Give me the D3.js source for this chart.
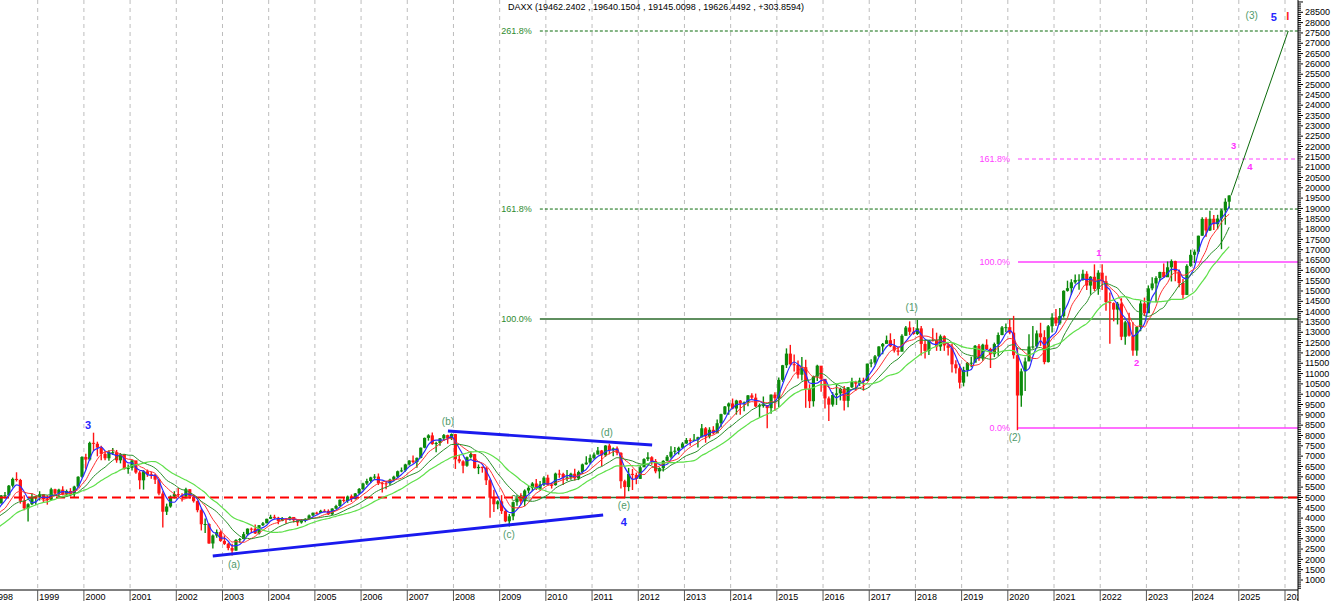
<!DOCTYPE html>
<html><head><meta charset="utf-8">
<script src="https://cdn.jsdelivr.net/npm/d3@7"></script>
<style>
body{margin:0;background:#fff;overflow:hidden;}
svg{display:block;font-family:"Liberation Sans",Arial,sans-serif;}
</style>
</head><body>
<svg id="c" width="1332" height="601"></svg>
<script>
// ---------------- DATA ----------------
const title = "DAXX (19462.2402 , 19640.1504 , 19145.0098 , 19626.4492 , +303.8594)";
const firstYear = 1998, firstMonth = 1;
// closes before the first drawn bar (Apr 1996 – Dec 1997), used for the averages only
const warmupCloses = [2523,2549,2551,2452,2486,2633,2687,2744,2889,3016,3294,3429,3624,3732,3826,4438,3917,4168,3699,3989,4250];
const closes = [
4443,4710,5097,5107,5568,5897,5845,4834,4474,4671,4994,5006,
5150,4924,4884,5395,5185,5378,5149,5312,5149,5525,6000,6958,
6835,7644,7599,7414,7110,6898,7190,7190,6798,7077,6372,6434,
6795,6208,5829,6264,6123,6058,5861,5188,4308,4560,5040,5160,
5108,5039,5397,5041,4818,4383,3700,3713,2769,3153,3320,2893,
2748,2547,2424,2942,2983,3221,3487,3485,3257,3655,3745,3965,
4058,4018,3857,3985,3921,4053,3895,3785,3893,3960,4126,4256,
4254,4351,4349,4185,4461,4586,4886,4830,5044,4929,5193,5408,
5674,5796,5970,6009,5693,5683,5682,5859,6004,6268,6309,6597,
6789,6715,6917,7409,7883,8007,7584,7638,7861,8019,7871,8067,
6851,6748,6535,6949,7097,6418,6479,6422,5831,4988,4669,4810,
4338,3843,4085,4770,4941,4809,5332,5465,5675,5415,5625,5957,
5608,5598,6154,6136,5964,5966,6148,5925,6229,6601,6688,6914,
7077,7273,7041,7514,7294,7376,7159,5785,5502,6141,6089,5898,
6458,6856,6947,6761,6264,6416,6772,6971,7216,7260,7406,7612,
7776,7742,7795,7914,8349,7959,8276,8103,8594,9033,9406,9552,
9306,9692,9556,9603,9943,9833,9407,9470,9474,9327,9980,9806,
10694,11402,11966,11454,11414,10945,11309,10259,9660,10850,11382,10743,
9798,9495,9966,10039,10263,9680,10337,10593,10511,10665,10640,11481,
11535,11834,12313,12438,12615,12325,12118,12056,12829,13230,13024,12918,
13189,12436,12097,12612,12605,12306,12806,12364,12247,11448,11257,10559,
11173,11516,11526,12344,11727,12399,12189,11939,12428,12867,13236,13249,
12982,11890,9936,11107,11587,12311,12313,12945,12761,11556,13291,13719,
13433,13786,15008,15136,15421,15531,15544,15835,15261,15688,15100,15885,
15471,14461,14415,14098,14388,12784,13484,12835,12114,13253,14397,13924,
15128,15365,15629,15922,15664,16148,16447,15947,15387,14810,16215,16752,
16904,17678,18492,17932,18498,18235,18509,18907,19325,19626];
const highs = [
4460,4730,5120,5260,5600,5960,6218,5900,5100,4720,5200,5060,
5300,5150,5100,5470,5420,5420,5540,5380,5450,5560,6020,6990,
7110,7700,8136,7700,7500,7240,7280,7400,7300,7150,7100,6600,
6800,6750,6280,6320,6350,6240,6130,5900,5300,4700,5100,5300,
5460,5200,5470,5400,5150,4850,4480,3980,3750,3200,3450,3400,
3160,2800,2750,2980,3030,3330,3500,3540,3690,3670,3810,3970,
4160,4160,4060,4050,3990,4090,4050,3900,3950,3990,4170,4270,
4310,4400,4430,4420,4470,4640,4900,4990,5090,5140,5220,5460,
5710,5900,6000,6130,6160,5750,5800,5900,6050,6300,6450,6630,
6800,7030,6940,7420,7900,8060,8151,7700,7880,8070,8040,8100,
8080,7050,6800,6980,7230,7100,6600,6500,6490,5900,5370,4860,
5110,4450,4200,4800,5100,5200,5390,5560,5740,5890,5800,6020,
6100,5700,6200,6340,6200,6330,6200,6390,6300,6640,6990,7080,
7180,7440,7300,7530,7600,7420,7470,7190,5860,6430,6380,6200,
6560,6900,7190,7000,6860,6460,6800,7060,7480,7440,7460,7680,
7880,7870,8070,7940,8560,8410,8400,8450,8770,9050,9430,9600,
9790,9730,9720,9650,9960,10050,10030,9550,9890,9480,9990,10100,
10810,11420,12220,12390,11920,11630,11800,11670,10480,10900,11430,11300,
10490,9890,10100,10480,10320,10400,10350,10800,10650,10800,10800,11480,
11690,11900,12320,12480,12840,12950,12680,12300,12900,13300,13530,13250,
13597,13300,12600,12630,13200,12980,12890,12850,12470,12460,11650,11480,
11330,11560,11820,12380,12430,12440,12660,12250,12500,12990,13300,13430,
13640,13795,12250,11250,11780,12910,13310,13090,13460,13100,13350,13920,
14130,14170,15030,15500,15570,15800,15810,16030,15960,15720,16290,16000,
16290,15740,14930,14450,14470,14650,13560,13950,13490,13290,14530,14680,
15270,15660,15710,15930,16330,16430,16530,16470,16040,15580,16300,17000,
17010,17680,18570,18570,18890,18680,18690,18970,19490,19640];
const lows = [
4110,4420,4700,4950,5050,5480,5770,4700,4380,3833,4630,4650,
4850,4750,4650,4850,5080,5050,5100,5050,5050,5000,5480,5950,
6350,6780,7250,6990,6800,6800,6780,7050,6680,6650,6350,6150,
6300,6150,5400,5380,6000,5900,5650,5100,3540,4150,4500,4950,
5000,4800,5030,4950,4750,4280,3400,3280,2750,2520,3050,2850,
2700,2440,2188,2420,2800,2970,3150,3300,3230,3200,3620,3750,
3950,3960,3700,3840,3720,3880,3790,3620,3730,3800,3950,4100,
4170,4250,4280,4150,4150,4440,4550,4750,4740,4780,4900,5170,
5350,5600,5700,5890,5600,5240,5400,5600,5780,5950,6220,6250,
6550,6650,6440,6900,7380,7750,7550,7190,7500,7750,7600,7780,
6380,6650,6170,6490,6880,6400,6130,6200,5600,4010,4300,4430,
4200,3800,3590,3900,4600,4660,4570,5190,5300,5360,5330,5550,
5590,5430,5570,5950,5600,5800,5860,5820,5840,6140,6580,6620,
6850,7080,6510,6970,7090,6990,7040,5430,4966,5300,5360,5640,
5900,6500,6770,6580,6170,5915,6250,6750,6880,7080,7080,7400,
7600,7500,7730,7420,7900,7650,7860,8050,8120,8400,9000,9000,
9270,9010,9000,9170,9420,9750,9370,8900,9350,8350,9050,9200,
9380,10600,11270,11400,11100,10760,10660,9340,9330,9400,10640,10120,
9310,8700,9400,9480,9700,9210,9370,10300,10170,10400,10170,10650,
11300,11430,11820,11940,12470,12280,12020,11870,12100,12830,12860,12880,
12870,11870,11730,11900,12560,12100,12100,12100,11870,11050,11000,10280,
10380,10860,11300,11580,11620,11620,12150,11270,11800,11860,12850,13000,
12900,11720,8256,9390,10160,11620,12200,12250,12340,11450,11530,12990,
13310,13360,13710,14970,14820,15350,15060,15500,15050,14820,15000,14820,
15050,14040,12440,13530,13380,12620,12390,12790,11860,11860,13050,13790,
13980,15030,14460,15470,15630,15710,15460,15470,15180,14630,14800,16170,
16350,16810,17680,17630,17900,17950,17990,17025,18210,19000];

const maPeriods = [4, 7, 12, 20];                 // months
const yearLabels = [1998,1999,2000,2001,2002,2003,2004,2005,2006,2007,2008,2009,2010,2011,2012,2013,2014,2015,2016,2017,2018,2019,2020,2021,2022,2023,2024,2025,2026];

// Fibonacci levels
const fibGreenStart = 2009.87;
const fibGreen = [
  {label:"0.0%",   value:5000,  dashed:false, main:false},
  {label:"100.0%", value:13640, dashed:false, main:true},
  {label:"161.8%", value:18970, dashed:true,  main:false},
  {label:"261.8%", value:27594, dashed:true,  main:false}];
const fibMagentaStart = 2020.22;
const fibMagenta = [
  {label:"0.0%",   value:8363,  dashed:false},
  {label:"100.0%", value:16404, dashed:false},
  {label:"161.8%", value:21393, dashed:true}];
const supportLevel = 5000;

// triangle trendlines
const trendUpper = [{t:2007.88, v:8218}, {t:2012.30, v:7540}];
const trendLower = [{t:2002.79, v:2163}, {t:2011.24, v:4149}];
const projectionTarget = {t:2026.07, v:27594};

// wave labels: text, time, value, degree
const waveLabels = [
  {text:"3",   t:2000.09, v:8508,  deg:"primary"},
  {text:"(a)", t:2003.25, v:1727,  deg:"inter"},
  {text:"(b)", t:2007.88, v:8654,  deg:"inter"},
  {text:"(c)", t:2009.20, v:3180,  deg:"inter"},
  {text:"(d)", t:2011.32, v:8169,  deg:"inter"},
  {text:"(e)", t:2011.69, v:4585,  deg:"inter"},
  {text:"4",   t:2011.69, v:3810,  deg:"primary"},
  {text:"(1)", t:2017.92, v:14176, deg:"inter"},
  {text:"(2)", t:2020.15, v:7879,  deg:"inter"},
  {text:"1",   t:2021.97, v:16840, deg:"minor"},
  {text:"2",   t:2022.79, v:11511, deg:"minor"},
  {text:"3",   t:2024.89, v:22023, deg:"minor"},
  {text:"4",   t:2025.24, v:21006, deg:"minor"},
  {text:"(3)", t:2025.28, v:28369, deg:"inter"},
  {text:"5",   t:2025.76, v:28272, deg:"primary"},
  {text:"I",   t:2026.06, v:28320, deg:"cycle"}];

// ---------------- CHART ----------------
const W = 1332, H = 601, plotR = 1298, plotB = 590;
const svg = d3.select("#c");
const x = d3.scaleLinear().domain([1999, 2026]).range([37.7, 1285]);
const y = d3.scaleLinear().domain([1000, 28500]).range([580, 12.3]);

const UP = "#0b8a0b", DOWN = "#ff1414";
const labelStyle = {
  primary:{fill:"#2626ff", size:11, weight:"bold"},
  inter:  {fill:"#4f9a6a", size:10, weight:"normal"},
  minor:  {fill:"#ff33ff", size:9.5,weight:"bold"},
  cycle:  {fill:"#ff2020", size:11, weight:"bold"}
};

svg.append("rect").attr("width",W).attr("height",H).attr("fill","#fff");
const defs = svg.append("defs");
defs.append("clipPath").attr("id","clip").append("rect")
  .attr("x",0).attr("y",0).attr("width",plotR).attr("height",plotB);
defs.append("clipPath").attr("id","clipx").append("rect")
  .attr("x",0).attr("y",-2).attr("width",plotR).attr("height",20);
const g = svg.append("g").attr("clip-path","url(#clip)");

// title
svg.append("text").attr("x",508).attr("y",10).attr("font-size",9).attr("fill","#000").text(title);

// year gridlines
g.append("g").selectAll("line").data(yearLabels).join("line")
  .attr("x1",d=>x(d)).attr("x2",d=>x(d)).attr("y1",0).attr("y2",plotB)
  .attr("stroke","#bdbdbd").attr("stroke-width",1).attr("stroke-dasharray","4,4");

// bars
const allCloses = warmupCloses.concat(closes);
const nW = warmupCloses.length;
const bars = closes.map((c,i)=>{
  const k = firstMonth-1+i;
  const yr = firstYear + Math.floor(k/12), m = k%12;
  return {t: yr + (m+0.5)/12, o: allCloses[nW+i-1], h: highs[i], l: lows[i], c};
});
const lastBar = bars[bars.length-1];

// fib lines (green)
const fg = g.append("g");
fibGreen.forEach(f=>{
  fg.append("line").attr("x1",x(fibGreenStart)).attr("x2",plotR).attr("y1",y(f.value)).attr("y2",y(f.value))
    .attr("stroke", f.main ? "#5f8f5f" : (f.dashed ? "#0b6b0b" : "#2f6f2f"))
    .attr("stroke-width", f.main ? 2 : (f.dashed ? 1 : 1.5))
    .attr("stroke-dasharray", f.dashed ? "3,2" : null);
  fg.append("text").attr("x",x(fibGreenStart)-8).attr("y",y(f.value)).attr("dy","0.35em")
    .attr("text-anchor","end").attr("font-size",9).attr("fill","#2e8b2e").text(f.label);
});
// fib lines (magenta)
fibMagenta.forEach(f=>{
  fg.append("line").attr("x1",x(fibMagentaStart)).attr("x2",plotR).attr("y1",y(f.value)).attr("y2",y(f.value))
    .attr("stroke","#ff40ff").attr("stroke-width", f.dashed?1:1.6)
    .attr("stroke-dasharray", f.dashed ? "4,3" : null);
  fg.append("text").attr("x",x(fibMagentaStart)-8).attr("y",y(f.value)).attr("dy","0.35em")
    .attr("text-anchor","end").attr("font-size",9).attr("fill","#ff40ff").text(f.label);
});

// candles
const bg = g.append("g");
bg.selectAll("line").data(bars).join("line")
  .attr("x1",d=>x(d.t)).attr("x2",d=>x(d.t)).attr("y1",d=>y(d.h)).attr("y2",d=>y(d.l))
  .attr("stroke",d=>d.c>=d.o?UP:DOWN).attr("stroke-width",1.4);
bg.selectAll("rect").data(bars).join("rect")
  .attr("x",d=>x(d.t)-1.6).attr("width",3.2)
  .attr("y",d=>y(Math.max(d.o,d.c))).attr("height",d=>Math.max(1,Math.abs(y(d.o)-y(d.c))))
  .attr("fill",d=>d.c>=d.o?UP:DOWN);

// support line
g.append("line").attr("x1",0).attr("x2",plotR).attr("y1",y(supportLevel)).attr("y2",y(supportLevel))
  .attr("stroke","#ff0000").attr("stroke-width",2).attr("stroke-dasharray","9,5");

// moving averages
const maColors = ["#2b2bff","#ff3030","#2a8f2a","#5fe04a"];
const maWidths = [1.2,1,1,1.2];
const line = d3.line().x(d=>x(d.t)).y(d=>y(d.v)).curve(d3.curveMonotoneX);
maPeriods.forEach((n,j)=>{
  const pts = bars.map((b,i)=>({t:b.t, v:d3.mean(allCloses.slice(nW+i-n+1, nW+i+1))}));
  g.append("path").datum(pts).attr("d",line).attr("fill","none")
    .attr("stroke",maColors[j]).attr("stroke-width",maWidths[j]);
});

// trendlines
const tl = d3.line().x(d=>x(d.t)).y(d=>y(d.v));
[trendUpper, trendLower].forEach(tr=>{
  g.append("path").datum(tr).attr("d",tl).attr("stroke","#1a1aee").attr("stroke-width",2.8).attr("fill","none");
});
// projection
g.append("path").datum([{t:lastBar.t+0.04, v:lastBar.c}, projectionTarget]).attr("d",tl)
  .attr("stroke","#0b6b0b").attr("stroke-width",1).attr("fill","none");

// wave labels
g.append("g").selectAll("text").data(waveLabels).join("text")
  .attr("x",d=>x(d.t)).attr("y",d=>y(d.v)).attr("dy","0.35em").attr("text-anchor","middle")
  .attr("font-size",d=>labelStyle[d.deg].size).attr("font-weight",d=>labelStyle[d.deg].weight)
  .attr("fill",d=>labelStyle[d.deg].fill).text(d=>d.text);

// bottom axis
const ax = svg.append("g").attr("transform",`translate(0,${plotB})`);
ax.append("line").attr("x1",0).attr("x2",plotR).attr("y1",0).attr("y2",0).attr("stroke","#000");
const axc = ax.append("g").attr("clip-path","url(#clipx)");
const xt = axc.selectAll("g.t").data(yearLabels).join("g").attr("transform",d=>`translate(${x(d)},0)`);
xt.append("line").attr("y1",0).attr("y2",11).attr("stroke","#555");
xt.append("text").attr("x",1.5).attr("y",9.5).attr("font-size",9).attr("fill","#000").text(d=>d);

// right axis
const ra = svg.append("g").attr("transform",`translate(${plotR},0)`);
ra.append("line").attr("x1",0).attr("x2",0).attr("y1",0).attr("y2",H).attr("stroke","#000");
const minor = d3.range(500, 29001, 100).filter(v=>y(v)>=0 && y(v)<=plotB);
ra.selectAll("line.mn").data(minor).join("line").attr("class","mn")
  .attr("x1",0).attr("x2",d=>d%500===0?5:3).attr("y1",d=>y(d)).attr("y2",d=>y(d)).attr("stroke","#000");
const priceLabels = d3.range(1000, 28501, 500);
ra.selectAll("text").data(priceLabels).join("text")
  .attr("x",7).attr("y",d=>y(d)).attr("dy","0.35em").attr("font-size",9).attr("fill","#000").text(d=>d);
</script>
</body></html>
